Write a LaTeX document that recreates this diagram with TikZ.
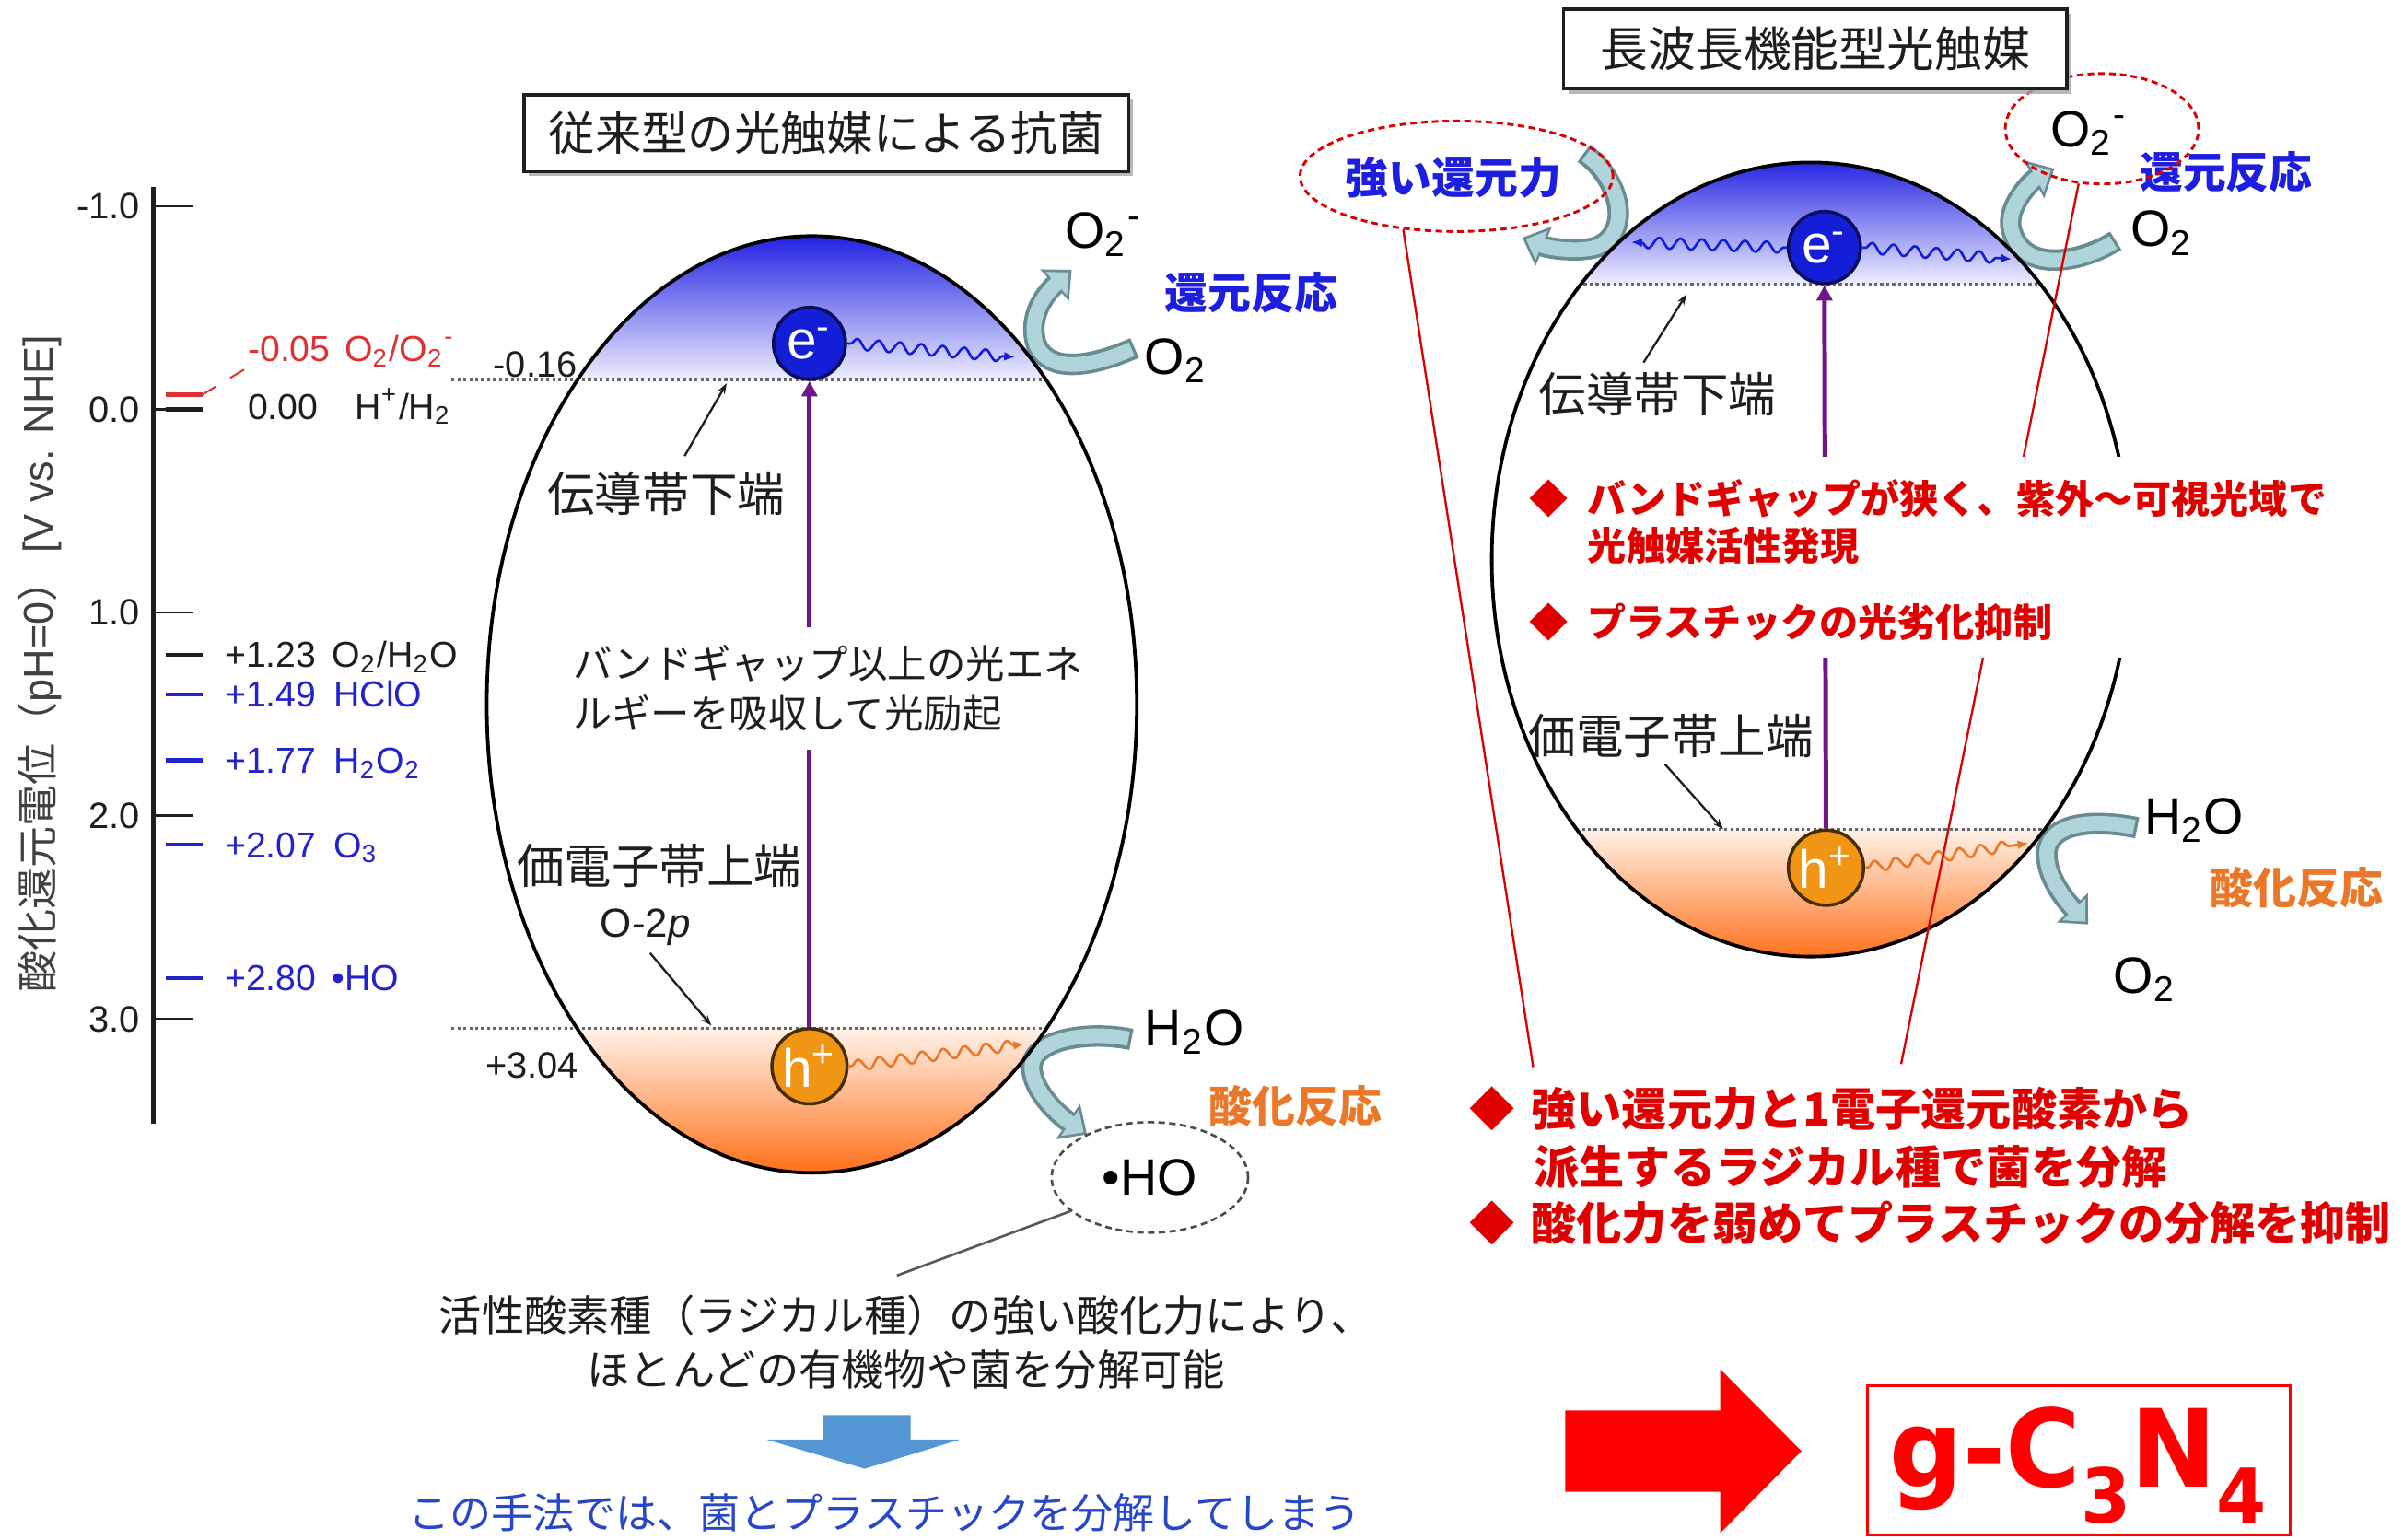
\documentclass[tikz,border=0pt]{standalone}
\usepackage{fontspec}
\setmainfont{Liberation Sans}
\newfontfamily\jp{Noto Sans CJK JP}
\newfontfamily\dvs{DejaVu Sans}
\usetikzlibrary{arrows.meta,shapes.geometric,decorations.pathmorphing,shadows}
\newcommand{\fsz}[2]{\fontsize{#1}{#2}\selectfont}
\definecolor{eblue}{RGB}{20,30,215}
\definecolor{edark}{RGB}{10,15,90}
\definecolor{hor}{RGB}{240,150,20}
\definecolor{hdark}{RGB}{70,45,0}
\definecolor{purp}{RGB}{112,20,140}
\definecolor{lvblue}{RGB}{35,35,205}
\definecolor{lvred}{RGB}{220,50,50}
\definecolor{rblue}{RGB}{30,30,225}
\definecolor{oran}{RGB}{235,120,40}
\definecolor{bred}{RGB}{225,0,0}
\definecolor{arrl}{RGB}{175,212,218}
\definecolor{arrd}{RGB}{105,140,146}
\definecolor{dblue}{RGB}{25,25,225}
\definecolor{pblue}{RGB}{238,238,255}
\definecolor{porange}{RGB}{255,242,232}
\definecolor{dorange}{RGB}{255,105,15}
\definecolor{btxt}{RGB}{40,70,200}
\definecolor{barrow}{RGB}{85,150,212}
\definecolor{txt}{RGB}{30,30,30}
\newcommand{\bentarrow}[1]{\draw[bendo] #1; \draw[bendi] #1;}
\begin{document}
\begin{tikzpicture}[x=0.01cm,y=-0.01cm,
  lbl/.style={inner sep=0pt, text=txt},
  lvl/.style={anchor=base west, inner sep=0pt, font=\fsz{6.7pt}{8pt}},
  bendo/.style={draw=arrd, line width=0.14cm, -{Triangle[width=0.27cm,length=0.15cm]}},
  bendi/.style={draw=arrl, line width=0.095cm, shorten >=0.025cm, shorten <=0.02cm, -{Triangle[width=0.20cm,length=0.11cm]}},
  dotline/.style={draw=gray!80!black, line width=0.55pt, dash pattern=on 0.55pt off 0.55pt},
  ovl/.style={draw=black, line width=0.65pt},
  ecirc/.style={circle, fill=eblue, draw=edark, line width=0.6pt, minimum size=0.47cm, inner sep=0pt, text=white, font=\fsz{10pt}{10pt}},
  hcirc/.style={circle, fill=hor, draw=hdark, line width=0.6pt, minimum size=0.49cm, inner sep=0pt, text=white, font=\fsz{10pt}{10pt}},
  purpA/.style={draw=purp, line width=0.85pt, -{Triangle[width=0.1cm,length=0.1cm]}},
  wave/.style={decorate, decoration={snake, amplitude=0.035cm, segment length=0.14cm, pre length=0.02cm, post length=0.06cm}, line width=0.45pt, -{Latex[length=0.07cm,width=0.06cm]}},
  leader/.style={line width=0.4pt, draw=txt, -{Stealth[length=0.07cm,width=0.05cm]}},
  jpl/.style={inner sep=1pt, text=txt, font=\jp\fsz{8.8pt}{10pt}},
  chem/.style={anchor=base west, inner sep=0pt, text=black, font=\fsz{9.5pt}{10pt}},
  reac/.style={anchor=west, inner sep=0pt, font=\jp\bfseries\fsz{8pt}{9pt}},
  titlebox/.style={draw=txt, line width=0.6pt, fill=white, inner sep=0pt, text=txt, drop shadow={shadow xshift=0.03cm, shadow yshift=-0.03cm, fill=gray!70, opacity=0.8}},
  rdash/.style={ellipse, draw=red!85!black, line width=0.5pt, dash pattern=on 1.2pt off 0.8pt, inner sep=0pt},
  rt/.style={anchor=west, inner sep=0pt, text=bred, font=\jp\bfseries\fsz{7.2pt}{8pt}},
  bt/.style={anchor=west, inner sep=0pt, text=bred, font=\jp\bfseries\fsz{8.4pt}{9pt}}
]
\useasboundingbox (0,0) rectangle (1568,1004);
\fill[white] (0,0) rectangle (1568,1004);

% ---------------- left axis ----------------
\draw[line width=0.75pt, draw=txt] (100,122) -- (100,733);
\foreach \v/\yy/\n in {-1.0/134.5/a, 0.0/267/b, 1.0/399.5/c, 2.0/532/d, 3.0/664.5/e} {
  \draw[line width=0.45pt, draw=txt] (100,\yy) -- (126,\yy);
  \node[lbl, anchor=base east, font=\fsz{6.8pt}{8pt}] (tick\n) at (92,\yy+8.4) {\v};
}
\foreach \yy/\c in {257.4/lvred, 267/txt, 427/txt, 453/lvblue, 496/lvblue, 551/lvblue, 638/lvblue}
  \draw[line width=0.75pt, draw=\c] (108,\yy) -- (132,\yy);
\node[lvl, text=lvred] (lva) at (161,235.8) {\makebox[0.63cm][l]{-0.05}O\textsubscript{2}/O\textsubscript{2}\textsuperscript{-}};
\node[lvl, text=txt] (lvb) at (161,273.4) {\makebox[0.70cm][l]{0.00}H\textsuperscript{+}/H\textsubscript{2}};
\node[lvl, text=txt] (lvc) at (146,435.4) {\makebox[0.70cm][l]{+1.23}O\textsubscript{2}/H\textsubscript{2}O};
\node[lvl, text=lvblue] (lvd) at (146,461.4) {\makebox[0.71cm][l]{+1.49}HClO};
\node[lvl, text=lvblue] (lve) at (146,504.4) {\makebox[0.71cm][l]{+1.77}H\textsubscript{2}O\textsubscript{2}};
\node[lvl, text=lvblue] (lvf) at (146,559.4) {\makebox[0.71cm][l]{+2.07}O\textsubscript{3}};
\node[lvl, text=lvblue] (lvg) at (146,646.4) {\makebox[0.70cm][l]{+2.80}•HO};
\coordinate (lva0) at (132,257.4);
\draw[draw=lvred, dashed, line width=0.35pt] (lva0) -- (lva.south west);
\node[rotate=90, inner sep=0pt, text=txt!85, font=\fsz{7.7pt}{9pt}] (ylab) at (26,433) {{\jp 酸化還元電位（}pH=0{\jp ）}\,[V vs. NHE]};

% ---------------- left diagram ----------------
\begin{scope}
  \clip (529.5,459.5) ellipse [x radius=212, y radius=305.5];
  \shade[top color=dblue, bottom color=pblue] (310,150) rectangle (750,247.5);
  \shade[top color=porange, bottom color=dorange] (310,671) rectangle (750,770);
\end{scope}
\bentarrow{(740,227) .. controls (715,238) and (685,245) .. (676,225) .. controls (671,210) and (678,195) .. (699,176)}
\bentarrow{(738,678) .. controls (710,672) and (672,678) .. (673,697) .. controls (674,712) and (690,727) .. (709,740)}
\draw[dotline] (294.5,247.5) -- (681,247.5);
\draw[dotline] (294.5,671) -- (681,671);
\draw[ovl] (529.5,459.5) ellipse [x radius=212, y radius=305.5];
\node[lbl, anchor=base east, font=\fsz{6.8pt}{8pt}] (vm016) at (377,246) {-0.16};
\node[lbl, anchor=base east, font=\fsz{6.8pt}{8pt}] (vp304) at (378,703) {+3.04};
\node[ecirc] (eL) at (528,224) {e\textsuperscript{-}};
\node[hcirc] (hL) at (528,695.5) {h\textsuperscript{+}};
\draw[purpA] (hL.north) -- (eL.south);
\coordinate (wL1) at (662,233);
\draw[wave, draw=eblue] (eL.east) -- (wL1);
\coordinate (wL2) at (668,681);
\draw[wave, draw=oran] (hL.east) -- (wL2);
\node[anchor=west, fill=white, inner xsep=2pt, inner ysep=0.12cm, align=left, font=\jp\fsz{7.25pt}{9.1pt}, text=txt] (bgL) at (366,449) {バンドギャップ以上の光エネ\\ルギーを吸収して光励起};
\node[jpl] (cbL) at (434.5,322) {伝導帯下端};
\coordinate (cbLe) at (474,250);
\draw[leader] ([xshift=0.12cm,yshift=0.06cm]cbL.north) -- (cbLe);
\node[jpl] (vbL) at (430,565) {価電子帯上端};
\node[lbl, font=\fsz{7.5pt}{8pt}] (o2p) at (421,605) {O-2\textit{p}};
\coordinate (o2pe) at (464,669);
\draw[leader] ([xshift=0.03cm,yshift=-0.04cm]o2p.south) -- (o2pe);
\node[chem] (o2mL) at (694,162) {O\textsubscript{2}\textsuperscript{-}};
\node[chem] (o2L) at (746,244) {O\textsubscript{2}};
\node[reac, text=rblue] (redL) at (759,191) {還元反応};
\node[chem] (h2oL) at (746,682) {H\textsubscript{2}O};
\node[reac, text=oran] (oxL) at (788,721) {酸化反応};
\node[ellipse, draw=gray!60!black, line width=0.45pt, dash pattern=on 1.2pt off 0.8pt, minimum width=1.28cm, minimum height=0.72cm, inner sep=0pt, font=\fsz{9.5pt}{10pt}] (hoL) at (750,768) {•HO};
\coordinate (hoLe) at (585,832);
\draw[line width=0.45pt, draw=gray!70!black] (hoL.203) -- (hoLe);
\node[inner sep=0pt, align=center, font=\jp\fsz{7.9pt}{10pt}, text=txt] (descL) at (591,875.5) {活性酸素種（ラジカル種）の強い酸化力により、\\ほとんどの有機物や菌を分解可能};
\fill[barrow] (536.5,923) -- (594,923) -- (594,939) -- (626,939) -- (564,958) -- (500,939) -- (536.5,939) -- cycle;
\node[inner sep=0pt, font=\jp\fsz{7.7pt}{9pt}, text=btxt] (concL) at (577,987) {この手法では、菌とプラスチックを分解してしまう};
\node[titlebox, minimum width=3.94cm, minimum height=0.5cm, font=\jp\fsz{8.6pt}{10pt}] (titL) at (539,87) {従来型の光触媒による抗菌};

% ---------------- right diagram ----------------
\begin{scope}
  \clip (1181,365) ellipse [x radius=208, y radius=259];
  \shade[top color=dblue, bottom color=pblue] (960,100) rectangle (1400,185.5);
  \shade[top color=porange, bottom color=dorange] (960,541) rectangle (1400,630);
\end{scope}
\bentarrow{(1033,100) .. controls (1055,115) and (1066,150) .. (1042,161) .. controls (1030,165) and (1010,162) .. (993,155)}
\bentarrow{(1380,157) .. controls (1360,170) and (1320,180) .. (1312,150) .. controls (1308,135) and (1325,118) .. (1340,110)}
\bentarrow{(1394,540) .. controls (1370,535) and (1338,535) .. (1335,555) .. controls (1334,570) and (1345,585) .. (1362,603)}
\draw[dotline] (1033,185.5) -- (1334,185.5);
\draw[dotline] (1028,541) -- (1337,541);
\draw[ovl] (1181,365) ellipse [x radius=208, y radius=259];
\node[ecirc] (eR) at (1190,161.5) {e\textsuperscript{-}};
\node[hcirc] (hR) at (1191,566) {h\textsuperscript{+}};
\draw[purpA] (hR.north) -- (eR.south);
\coordinate (wR1) at (1064,158);
\coordinate (wR2) at (1312,169);
\coordinate (wR3) at (1323,550);
\draw[wave, draw=eblue] (eR.west) -- (wR1);
\draw[wave, draw=eblue] (eR.east) -- (wR2);
\draw[wave, draw=oran] (hR.east) -- (wR3);
\node[jpl] (cbR) at (1081,257) {伝導帯下端};
\coordinate (cbRe) at (1100,192);
\draw[leader] ([xshift=-0.09cm,yshift=0.02cm]cbR.north) -- (cbRe);
\node[jpl] (vbR) at (1090,480) {価電子帯上端};
\coordinate (vbRe) at (1124,541);
\draw[leader] ([xshift=-0.04cm]vbR.south) -- (vbRe);
\node[chem] (o2mR) at (1337,96) {O\textsubscript{2}\textsuperscript{-}};
\node[chem] (o2R) at (1389,161) {O\textsubscript{2}};
\node[reac, text=rblue] (redR) at (1395,112) {還元反応};
\node[chem] (h2oR) at (1398,544) {H\textsubscript{2}O};
\node[reac, text=oran] (oxR) at (1441,579) {酸化反応};
\node[chem] (o2bR) at (1378,648) {O\textsubscript{2}};
\node[rdash, minimum width=2.04cm, minimum height=0.72cm] (lred) at (950,115) {};
\node[reac, anchor=center, text=rblue] (strong) at (948,116) {強い還元力};
\node[rdash, minimum width=1.26cm, minimum height=0.72cm] (rred) at (1371,84) {};
\coordinate (lend) at (1000,696);
\coordinate (rend) at (1240,694);
\draw[draw=red!85!black, line width=0.4pt] (lred.225) -- (lend);
\draw[draw=red!85!black, line width=0.4pt] (rred.247) -- (rend);
\fill[white] (993,298) rectangle (1525,429);
\node[rt] (rb1) at (997,325) {◆\hspace{3.5pt}バンドギャップが狭く、紫外～可視光域で};
\node[rt] (rb2) at (1035,356) {光触媒活性発現};
\node[rt] (rb3) at (997,406) {◆\hspace{3.5pt}プラスチックの光劣化抑制};
\node[titlebox, minimum width=3.28cm, minimum height=0.52cm, font=\jp\fsz{8.85pt}{10pt}] (titR) at (1184,32) {長波長機能型光触媒};

% ---------------- bottom right ----------------
\node[bt] (bb1) at (958,723) {◆\hspace{3pt}強い還元力と1電子還元酸素から};
\node[bt] (bb2) at (1000,761) {派生するラジカル種で菌を分解};
\node[bt] (bb3) at (958,798) {◆\hspace{3pt}酸化力を弱めてプラスチックの分解を抑制};
\fill[red] (1021,920) -- (1122,920) -- (1122,893) -- (1175,946.5) -- (1122,1000) -- (1122,973) -- (1021,973) -- cycle;
\node[draw=red, line width=0.5pt, minimum width=2.76cm, minimum height=0.97cm, inner sep=0pt] (gbox) at (1356,952.5) {};
\node[anchor=base west, inner sep=0pt, text=red, font=\dvs\bfseries\fsz{20pt}{22pt}] (gcn) at (1232,970) {\scalebox{0.95}[1]{g-C\raisebox{-0.33em}{\fsz{14pt}{14pt}3}N\raisebox{-0.33em}{\fsz{14pt}{14pt}4}}};
\end{tikzpicture}
\end{document}
